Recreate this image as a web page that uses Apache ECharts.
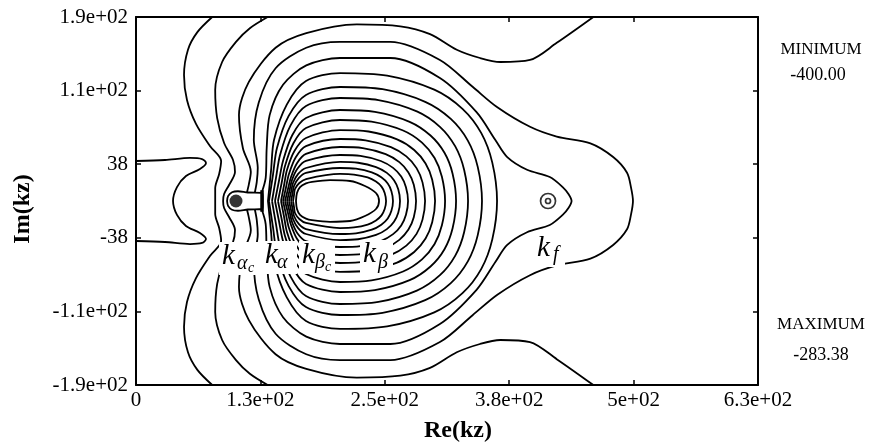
<!DOCTYPE html>
<html>
<head>
<meta charset="utf-8">
<script src="https://cdn.jsdelivr.net/npm/echarts@6/dist/echarts.min.js"></script>
<style>
  html, body { margin: 0; padding: 0; background: #fff; }
  #chart { width: 872px; height: 445px; }
</style>
</head>
<body>
<div id="chart"></div>
<script>
// ---- axes -------------------------------------------------------------
const xTickLabels = ['0', '1.3e+02', '2.5e+02', '3.8e+02', '5e+02', '6.3e+02'];
const yTickLabels = ['-1.9e+02', '-1.1e+02', '-38', '38', '1.1e+02', '1.9e+02'];
const xRange = [0, 628.3];
const xStep = 125.66;
const yRange = [-188.5, 188.5];
const yStep = 75.4;

// ---- contour lines of the field over the complex kz plane ---------------
// The field is symmetric about Im(kz) = 0, so each level lists only its
// upper-half branch as [Re(kz), Im(kz)]; the lower branch is its mirror.
const contourG  = [[77,188.5],[62,173],[52.5,155],[48.5,129],[51.5,103.5],[60.6,79],[74.7,56.3],[86,41],[84,27.7],[80,13.3],[80,0]];
const contourF  = [[0,41],[29.3,42],[54.5,44.1],[66.7,43],[70.7,39],[64.6,32.8],[50.5,25.6],[41.4,14.3],[37.4,0]];
const contourA0 = [[133,188.5],[115,177],[101,163],[87,142.4],[80,113.7],[82,85],[89,59.4],[98,42],[100,29.7],[94,16.4],[89,7.2],[88,0]];
const contourK  = [[92,0],[93,5],[97,9],[103,10],[113,8.7],[127.3,8.2],[128,4],[128,0]];
const contourA  = [[112,8.5],[114,17],[116,30],[108,54],[104,88],[114,122],[141,157],[172,172],[223,181],[267,179],[297,171],[324,155],[347.5,146.5],[368,142.4],[398,144.5],[425,162],[462,188.5]];
const contourB  = [[120,8.5],[122,19.5],[123,34],[119,62.5],[124,101],[141,136],[172,157],[206,163],[257,163],[307,144.5],[340,117],[365,96],[398,76],[425,66],[459,59],[482,45],[496,29],[500,14],[502,0]];
const contourC  = [[127,8.5],[131,23.6],[132,54],[135,88],[148.5,119],[172,139],[206,146.5],[257,146.5],[307,126],[344,91],[363,62.5],[375,45],[395,32],[418,24.6],[431,14.3],[437,7],[440,0]];
const contour1  = [[133.3,0],[136.4,31.2],[139.4,62.5],[152.3,98.8],[171.7,122.9],[206.1,131.1],[253.7,128.5],[301.3,114.1],[329.8,94.4],[348.8,69.5],[359.9,39.3],[364.7,0]];
const contour2  = [[134.3,0],[138.4,27.1],[142.4,54.3],[154.1,86.9],[171.7,108.6],[206.1,116.8],[249.1,114.5],[292.1,101.6],[318.0,84.1],[335.2,61.9],[345.2,35.0],[349.5,0]];
const contour3  = [[137.4,0],[141.4,23.6],[145.5,47.1],[156.0,77.2],[171.7,97.3],[206.1,105.5],[244.9,103.4],[283.7,91.8],[307.0,76.0],[322.5,55.9],[331.5,31.7],[335.4,0]];
const contour4  = [[140.4,0],[144.4,20.5],[148.5,41.0],[157.8,67.4],[171.7,85.0],[206.1,93.2],[241.3,91.3],[276.4,81.1],[297.5,67.1],[311.6,49.4],[319.8,28.0],[323.3,0]];
const contour5  = [[143.4,0],[147.0,17.9],[150.5,35.9],[159.0,59.2],[171.7,74.8],[206.1,83.0],[237.9,81.3],[269.8,72.2],[288.9,59.8],[301.6,44.0],[309.0,24.9],[312.2,0]];
const contour6  = [[146.5,0],[149.5,15.9],[152.5,31.8],[160.2,51.4],[171.7,64.5],[206.1,72.7],[234.9,71.2],[263.7,63.2],[281.0,52.3],[292.5,38.5],[299.2,21.8],[302.1,0]];
const contour7  = [[148.5,0],[151.5,13.8],[154.5,27.7],[161.4,44.9],[171.7,56.3],[206.1,63.5],[231.9,62.2],[257.6,55.2],[273.1,45.7],[283.4,33.7],[289.4,19.1],[292.0,0]];
const contour8  = [[150.5,0],[153.5,12.3],[156.6,24.6],[162.6,38.7],[171.7,48.2],[206.1,55.3],[229.1,54.2],[252.2,48.1],[266.0,39.8],[275.2,29.3],[280.6,16.6],[282.9,0]];
const contour9  = [[152.5,0],[155.1,10.8],[157.6,21.5],[163.2,33.2],[171.7,41.0],[206.1,47.1],[226.7,46.2],[247.3,41.0],[259.7,33.9],[267.9,25.0],[272.7,14.1],[274.8,0]];
const contour10 = [[154.5,0],[156.6,9.2],[158.6,18.4],[163.8,27.7],[171.7,33.8],[206.1,40.0],[224.3,39.2],[242.5,34.8],[253.4,28.8],[260.6,21.2],[264.9,12.0],[266.7,0]];
const contour11 = [[156.6,0],[158.1,7.7],[159.6,15.4],[164.4,23.4],[171.7,28.7],[206.1,33.8],[222.2,33.1],[238.2,29.4],[247.8,24.3],[254.3,17.9],[258.0,10.1],[259.6,0]];
const contour12 = [[158.6,0],[159.6,6.1],[160.6,12.3],[165.0,18.4],[171.7,22.5],[206.1,27.7],[220.1,27.1],[234.0,24.1],[242.4,19.9],[248.0,14.7],[251.2,8.3],[252.6,0]];
const contourD  = [[161.6,0],[162.6,8.2],[165.7,14.3],[171.7,18.0],[177.8,19.6],[196.0,21.3],[216.2,20.5],[231.3,15.4],[242.4,8.2],[245.5,0]];

const contours = [contourG, contourF, contourA0, contourK, contourA, contourB, contourC,
  contour1, contour2, contour3, contour4, contour5, contour6, contour7, contour8,
  contour9, contour10, contour11, contour12, contourD];

// ---- singular points -----------------------------------------------------
const kAlphaC = [101, 0];                      // solid dot
const kAlphaCut = [[127.3, -11], [127.3, 11]]; // short cut at k_alpha
const kF = [416.2, 0];                         // pole with ring contours

// ---- annotations -----------------------------------------------------------
const labelBase   = ['k', 'k', 'k', 'k', 'k'];
const labelSub    = ['α', 'α', 'β', 'β', 'f'];
const labelSubSub = ['c', '',  'c', '',  ''];
const labelAnchor = [[86.9, -65.6], [130.3, -64.5], [167.7, -64.5], [229.3, -63.5], [405.1, -57.4]];
const extremaText = ['MINIMUM', '-400.00', 'MAXIMUM', '-283.38'];

// ---- drawing -----------------------------------------------------------------
const serif = '"Liberation Serif", "Times New Roman", serif';
const ink = '#000';

// Join a level with its mirror image when it meets the real axis,
// otherwise draw both branches separately.
function branches(half) {
  const mirror = half.map(p => [p[0], -p[1]]);
  if (half[half.length - 1][1] === 0) {
    return [half.concat(mirror.slice().reverse().slice(1))];
  }
  return [half, mirror];
}

const series = [];
contours.forEach(level => {
  branches(level).forEach(path => {
    series.push({
      type: 'line', data: path, symbol: 'none', smooth: 0.3, silent: true,
      lineStyle: { color: ink, width: 1.8 }, z: 2
    });
  });
});
series.push({
  type: 'line', data: kAlphaCut, symbol: 'none', silent: true,
  lineStyle: { color: '#000', width: 3.5 }, z: 3
});
series.push({
  type: 'scatter', data: [kAlphaC], symbol: 'circle', symbolSize: 13, silent: true,
  itemStyle: { color: '#000' }, z: 3
});
series.push({
  type: 'scatter', silent: true, symbol: 'circle', z: 3,
  data: [{ value: kF, symbolSize: 15 }, { value: kF, symbolSize: 5 }],
  itemStyle: { color: 'rgba(0,0,0,0)', borderColor: ink, borderWidth: 1.7 }
});

function xAxisDef(pos, labels) {
  return {
    type: 'value', position: pos, min: xRange[0], max: xRange[1], interval: xStep,
    axisLine: { onZero: false, lineStyle: { color: '#000', width: 2 } },
    axisTick: { inside: true, length: 5, lineStyle: { color: '#000', width: 1.5 } },
    axisLabel: labels ? {
      color: '#000', fontFamily: serif, fontSize: 21, margin: 5,
      formatter: v => xTickLabels[Math.round((v - xRange[0]) / xStep)] || ''
    } : { show: false },
    splitLine: { show: false }
  };
}
function yAxisDef(pos, labels) {
  return {
    type: 'value', position: pos, min: yRange[0], max: yRange[1], interval: yStep,
    axisLine: { onZero: false, lineStyle: { color: '#000', width: 2 } },
    axisTick: { inside: true, length: 5, lineStyle: { color: '#000', width: 1.5 } },
    axisLabel: labels ? {
      color: '#000', fontFamily: serif, fontSize: 21, margin: 8,
      formatter: v => yTickLabels[Math.round((v - yRange[0]) / yStep)] || ''
    } : { show: false },
    splitLine: { show: false }
  };
}

const chart = echarts.init(document.getElementById('chart'), null, { renderer: 'canvas' });
chart.setOption({
  animation: false,
  backgroundColor: '#fff',
  grid: { left: 136, right: 114, top: 17, bottom: 60 },
  xAxis: [xAxisDef('bottom', true), xAxisDef('top', false)],
  yAxis: [yAxisDef('left', true), yAxisDef('right', false)],
  series: series
});

// Annotation text: branch-point labels, axis titles, extrema.
const graphic = [];
const glyphs = [
  // [dx, baseline dy, size] for base, sub, sub-sub
  [[0, 0, 29], [15, 5, 20], [26, 8, 14]],
  [[0, 0, 29], [12, 5, 20]],
  [[0, 0, 29], [13, 5, 20], [23, 8, 14]],
  [[0, 0, 29], [15, 6, 20]],
  [[0, 0, 29], [16, 4, 20]]
];
const boxWidth = [36, 30, 31, 28, 26];
labelAnchor.forEach((pt, i) => {
  const [ax, ay] = chart.convertToPixel({ gridIndex: 0 }, pt);
  graphic.push({
    type: 'rect', z: 10, silent: true,
    shape: { x: ax - 3, y: ay - 23, width: boxWidth[i] + 5, height: 33 },
    style: { fill: '#fff' }
  });
  const parts = [labelBase[i], labelSub[i], labelSubSub[i]];
  glyphs[i].forEach((g, j) => {
    if (!parts[j]) return;
    graphic.push({
      type: 'text', z: 11, silent: true,
      x: ax + g[0], y: ay + g[1] - 0.305 * g[2],
      style: {
        text: parts[j], fontFamily: serif, fontStyle: 'italic', fontSize: g[2],
        fill: '#000', align: 'left', verticalAlign: 'middle'
      }
    });
  });
});

graphic.push({
  type: 'text', x: 458, y: 431, z: 11, silent: true,
  style: { text: 'Re(kz)', fontFamily: serif, fontWeight: 'bold', fontSize: 24, fill: '#000', align: 'center', verticalAlign: 'middle' }
});
graphic.push({
  type: 'text', x: 23, y: 209, rotation: Math.PI / 2, z: 11, silent: true,
  style: { text: 'Im(kz)', fontFamily: serif, fontWeight: 'bold', fontSize: 24, fill: '#000', align: 'center', verticalAlign: 'middle' }
});
const extremaPos = [[821, 50], [818, 75], [821, 325], [821, 355]];
const extremaSize = [17, 18, 17, 18];
extremaText.forEach((t, i) => {
  graphic.push({
    type: 'text', x: extremaPos[i][0], y: extremaPos[i][1], z: 11, silent: true,
    style: { text: t, fontFamily: serif, fontSize: extremaSize[i], fill: '#000', align: 'center', verticalAlign: 'middle' }
  });
});

chart.setOption({ graphic: graphic });
</script>
</body>
</html>
